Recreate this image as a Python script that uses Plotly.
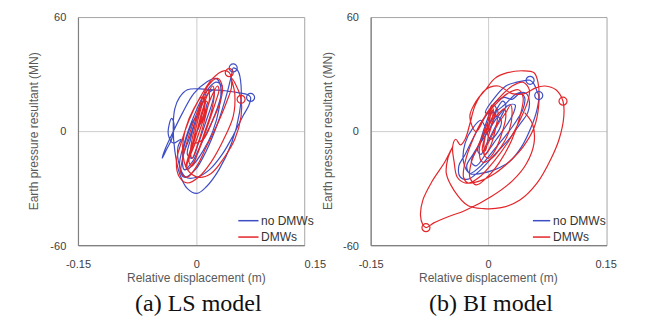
import plotly.graph_objects as go

W, H = 645, 322

# ---------------- data ----------------
# (a) LS model, no DMWs
ls_nodmw_x = [0.000, 0.008, 0.012, 0.008, 0.000, -0.008, -0.012, -0.006, 0.002,
              0.012, 0.020, 0.022, 0.014, 0.002, -0.010, -0.018, -0.016, -0.006, 0.006,
              0.020, 0.030, 0.032, 0.024, 0.010, -0.004, -0.016, -0.022, -0.016, -0.002, 0.012,
              0.026, 0.038, 0.044, 0.046, 0.052, 0.056, 0.054, 0.044, 0.028, 0.012, 0.000, -0.012, -0.022,
              -0.028, -0.030, -0.028, -0.022,
              -0.012, 0.004, 0.020, 0.036, 0.052, 0.064, 0.068, 0.066, 0.058, 0.046, 0.032, 0.016, 0.000,
              -0.014, -0.022, -0.024,
              -0.020, -0.030, -0.036, -0.035, -0.032, -0.029, -0.032, -0.038, -0.044, -0.040, -0.030,
              -0.018, -0.004, 0.012, 0.024, 0.030, 0.028, 0.020, 0.008, -0.006, -0.016, -0.018, -0.012,
              -0.004, 0.004]
ls_nodmw_y = [0, 8, 14, 16, 8, -4, -12, -14, -6,
              6, 16, 22, 20, 10, -4, -14, -20, -16, -6,
              6, 18, 24, 26, 20, 8, -6, -18, -24, -20, -10,
              4, 20, 30, 33.5, 32, 24, 10, -6, -20, -29, -32.5, -30, -22,
              -10, 2, 12, 18,
              22, 22.5, 22, 21.5, 20.5, 19.5, 18, 14, 8, -2, -12, -20, -24,
              -24, -18, -8,
              -4, -6, -2, 4, 7, 4, -4, -9, -14, -9, 0,
              10, 20, 26, 28, 24, 12, 0, -10, -18, -20, -12,
              -2, 6, 10]

# (a) LS model, DMWs
ls_dmw_x = [0.000, 0.006, 0.010, 0.008, 0.002, -0.004, -0.008, -0.006, 0.000,
            0.006, 0.012, 0.016, 0.014, 0.008, 0.000, -0.006, -0.010, -0.006, 0.002,
            0.010, 0.018, 0.022, 0.020, 0.012, 0.004, -0.004, -0.012, -0.012, -0.004,
            0.006, 0.016, 0.024, 0.028, 0.026, 0.018, 0.008, -0.002, -0.010, -0.014, -0.010,
            -0.002, 0.008, 0.014, 0.012, 0.006, 0.000, -0.004,
            0.008, 0.020, 0.030, 0.032, 0.026, 0.014, 0.002, -0.010, -0.018, -0.020, -0.012, 0.000, 0.012,
            0.026, 0.038, 0.044, 0.041, 0.034, 0.020, 0.004, -0.010, -0.020, -0.026, -0.022, -0.012, 0.002,
            0.018, 0.034, 0.046, 0.048,
            0.044, 0.050, 0.056, 0.056, 0.048, 0.034, 0.018, 0.002, -0.012, -0.018, -0.014, -0.004, 0.006,
            0.010, 0.006]
ls_dmw_y = [0, 8, 16, 18, 10, 0, -10, -14, -8,
            0, 10, 18, 22, 16, 4, -8, -16, -18, -10,
            0, 10, 20, 24, 18, 6, -6, -16, -20, -16,
            -6, 6, 16, 22, 24, 18, 6, -6, -14, -18, -12,
            -2, 8, 14, 16, 10, 0, -6,
            -4, 6, 16, 24, 28, 24, 12, -2, -14, -22, -24, -18, -8,
            4, 16, 24, 31, 32, 28, 18, 6, -6, -16, -24, -27, -24,
            -16, -4, 8, 20,
            28, 24, 17, 8, -4, -14, -22, -24, -20, -10, 2, 12, 18,
            14, 4]

# (b) BI model, no DMWs
bi_nodmw_x = [0.000, 0.006, 0.010, 0.006, -0.002, -0.010, -0.014, -0.010, -0.002,
              0.008, 0.016, 0.022, 0.018, 0.008, -0.004, -0.016, -0.022, -0.016, -0.004,
              0.010, 0.024, 0.032, 0.034, 0.026, 0.012, -0.004, -0.020, -0.028, -0.024, -0.010,
              0.006, 0.022, 0.036, 0.044, 0.046, 0.040, 0.030, 0.020, 0.010, -0.004, -0.018, -0.030,
              -0.038, -0.036, -0.026,
              -0.010, 0.008, 0.026, 0.040, 0.050, 0.052, 0.048, 0.036,
              0.020, 0.006, -0.004, 0.008, 0.022, 0.036, 0.048, 0.053, 0.058, 0.062, 0.064, 0.062, 0.054,
              0.042, 0.026, 0.008, -0.010, -0.024, -0.032, -0.030, -0.020, -0.010, -0.004,
              0.002, 0.012, 0.016, 0.010, 0.002]
bi_nodmw_y = [0, 6, 12, 14, 6, -4, -10, -12, -6,
              2, 8, 14, 16, 10, 0, -10, -16, -18, -12,
              -4, 4, 10, 14, 14, 8, -2, -12, -18, -22, -18,
              -10, -2, 6, 12, 18, 20, 17, 18, 16, 8, -2, -12,
              -18, -24, -25,
              -20, -12, -4, 4, 10, 16, 20, 20,
              14, 10, 10, 18, 24, 26, 27, 27, 25, 21, 19, 12, 2,
              -8, -16, -20, -22, -22, -16, -6, 2, 6, 2,
              -4, 0, 6, 8, 2]

# (b) BI model, DMWs
bi_dmw_x = [0.000, 0.002, 0.004, 0.002, -0.002, -0.006, -0.004, 0.000,
            0.006, 0.010, 0.012, 0.008, 0.002, -0.004, -0.008, -0.004,
            0.004, 0.014, 0.020, 0.022, 0.016, 0.008, 0.000, -0.006,
            0.002, 0.012, 0.022, 0.028, 0.030, 0.026, 0.016, 0.004, -0.008, -0.012, -0.006, 0.002,
            0.006, 0.004,
            -0.002, -0.014, -0.022, -0.024, -0.016, -0.002, 0.014, 0.030, 0.040, 0.044, 0.038, 0.024,
            0.008, -0.008, -0.020, -0.030, -0.032, -0.026, -0.012, 0.006, 0.024, 0.040, 0.050, 0.052,
            0.044, 0.030, 0.014, -0.002, -0.016,
            -0.024, -0.016, -0.004, 0.008, 0.024, 0.044, 0.058, 0.063, 0.064, 0.058, 0.044, 0.026,
            0.008, -0.012, -0.030, -0.040, -0.044, -0.046, -0.042, -0.036, -0.030, -0.024, -0.017,
            -0.004, 0.012, 0.030, 0.046, 0.060, 0.072, 0.086, 0.095, 0.096, 0.090, 0.080, 0.062,
            0.040, 0.016, -0.006, -0.026, -0.044, -0.054, -0.052, -0.046, -0.056, -0.072, -0.084,
            -0.087, -0.084, -0.080, -0.070, -0.050, -0.030, 0.004, 0.030, 0.048, 0.058, 0.056, 0.046]
bi_dmw_y = [0, 8, 14, 12, 2, -8, -10, -2,
            6, 12, 10, 0, -8, -12, -10, -2,
            6, 10, 12, 8, -2, -10, -14, -12,
            -4, 4, 10, 14, 10, 0, -8, -14, -16, -10, 0, 8,
            12, 6,
            2, -8, -16, -24, -28, -24, -16, -4, 8, 18, 22, 20,
            14, 6, -4, -16, -24, -27, -24, -16, -6, 6, 16, 22,
            26, 24, 18, 10, 0,
            8, 16, 22, 28, 31, 32, 31, 26, 14, 2, -8, -16,
            -22, -26, -27, -24, -16, -8, -4, -7, -4, 4, 14,
            22, 24, 20, 20, 23, 24, 22, 16, 8, -4, -14, -27,
            -36, -40, -40.5, -39, -31, -22, -14, -8, -16, -26, -36,
            -44, -49, -50.5, -48, -44.5, -41.5, -34, -26, -17, -6, 4, 10]

# highlighted (circled) points
ls_nodmw_pk_x, ls_nodmw_pk_y = [0.046, 0.068], [33.5, 18]
ls_dmw_pk_x, ls_dmw_pk_y = [0.041, 0.056], [31, 17]
bi_nodmw_pk_x, bi_nodmw_pk_y = [0.053, 0.064], [27, 19]
bi_dmw_pk_x, bi_dmw_pk_y = [0.095, -0.080], [16, -50.5]

series_names = ["no DMWs", "DMWs"]
x_ticks = [-0.15, 0, 0.15]
x_ticktext = ["-0.15", "0", "0.15"]
y_ticks = [-60, 0, 60]
y_ticktext = ["-60", "0", "60"]
captions = ["(a) LS model", "(b) BI model"]
x_title = "Relative displacement (m)"
y_title = "Earth pressure resultant (MN)"

BLUE = "rgb(62,78,196)"
RED = "rgb(228,38,42)"

fig = go.Figure()

def add_panel(xa, ya, bx, by, rx, ry, bpx, bpy, rpx, rpy):
    line_kw = dict(shape="spline", smoothing=1.0, width=1.2)
    fig.add_trace(go.Scatter(x=bx, y=by, mode="lines", line=dict(color=BLUE, **line_kw),
                             xaxis=xa, yaxis=ya, showlegend=False, name=series_names[0]))
    fig.add_trace(go.Scatter(x=rx, y=ry, mode="lines", line=dict(color=RED, **line_kw),
                             xaxis=xa, yaxis=ya, showlegend=False, name=series_names[1]))
    fig.add_trace(go.Scatter(x=bpx, y=bpy, mode="markers",
                             marker=dict(symbol="circle-open", size=8, color=BLUE, line=dict(width=1.2)),
                             xaxis=xa, yaxis=ya, showlegend=False))
    fig.add_trace(go.Scatter(x=rpx, y=rpy, mode="markers",
                             marker=dict(symbol="circle-open", size=8, color=RED, line=dict(width=1.2)),
                             xaxis=xa, yaxis=ya, showlegend=False))

add_panel("x", "y", ls_nodmw_x, ls_nodmw_y, ls_dmw_x, ls_dmw_y,
          ls_nodmw_pk_x, ls_nodmw_pk_y, ls_dmw_pk_x, ls_dmw_pk_y)
add_panel("x2", "y2", bi_nodmw_x, bi_nodmw_y, bi_dmw_x, bi_dmw_y,
          bi_nodmw_pk_x, bi_nodmw_pk_y, bi_dmw_pk_x, bi_dmw_pk_y)

def px(v):
    return v / W

def py(v):
    return 1 - v / H

tickfont = dict(family="Liberation Sans, Arial, sans-serif", size=11, color="#404040")
ydom = [py(249), py(12)]
axx = dict(range=[-0.15, 0.15], tickvals=x_ticks, ticktext=x_ticktext, showgrid=False, zeroline=False,
           showline=False, ticks="outside", ticklen=8, tickcolor="rgba(0,0,0,0)",
           tickfont=tickfont, fixedrange=True)
axy = dict(range=[-60, 60], tickvals=y_ticks, ticktext=y_ticktext, showgrid=False, zeroline=False,
           showline=False, ticks="outside", ticklen=9, tickcolor="rgba(0,0,0,0)",
           tickfont=tickfont, fixedrange=True)

fig.update_layout(
    width=W, height=H, margin=dict(l=0, r=0, t=0, b=0),
    paper_bgcolor="white", plot_bgcolor="rgba(0,0,0,0)",
    xaxis=dict(domain=[px(68), px(314)], anchor="y", **axx),
    yaxis=dict(domain=ydom, anchor="x", **axy),
    xaxis2=dict(domain=[px(372), px(616)], anchor="y2", **axx),
    yaxis2=dict(domain=ydom, anchor="x2", **axy),
)

shapes = []
annos = []
panels = [
    dict(xref="x", yref="y", left=68, right=303, cx=191, ytx=22, cap_x=193, leg_l=234, leg_r=255),
    dict(xref="x2", yref="y2", left=372, right=617, cx=494, ytx=327, cap_x=496, leg_l=540, leg_r=558),
]
for p in panels:
    # zero grid lines
    shapes.append(dict(type="line", xref=p["xref"], yref="paper", x0=0, x1=0, y0=py(249), y1=py(12),
                       line=dict(color="#cccccc", width=1), layer="below"))
    shapes.append(dict(type="line", xref="paper", yref=p["yref"], x0=px(p["left"]), x1=px(p["right"]),
                       y0=0, y1=0, line=dict(color="#cccccc", width=1), layer="below"))
    # plot frame
    shapes.append(dict(type="rect", xref="paper", yref="paper", x0=px(p["left"]), x1=px(p["right"]),
                       y0=py(249), y1=py(12), line=dict(color="#a6a6a6", width=1)))
    shapes.append(dict(type="line", xref="paper", yref="paper", x0=px(p["left"]), x1=px(p["left"]),
                       y0=py(249), y1=py(12), line=dict(color="#808080", width=1.2)))
    shapes.append(dict(type="line", xref="paper", yref="paper", x0=px(p["left"]), x1=px(p["right"]),
                       y0=py(249), y1=py(249), line=dict(color="#808080", width=1.2)))
    # legend
    for name, col, yy in [(series_names[0], BLUE, 223), (series_names[1], RED, 240)]:
        shapes.append(dict(type="line", xref="paper", yref="paper", x0=px(p["leg_l"]), x1=px(p["leg_r"]),
                           y0=py(yy), y1=py(yy), line=dict(color=col, width=1.5)))
        annos.append(dict(xref="paper", yref="paper", x=px(p["leg_r"] + 1), y=py(yy), text=name,
                          showarrow=False, xanchor="left", yanchor="middle",
                          font=dict(family="Liberation Sans, Arial, sans-serif", size=12, color="#333333")))
    # axis titles
    annos.append(dict(xref="paper", yref="paper", x=px(p["cx"]), y=py(283), text=x_title, showarrow=False,
                      xanchor="center", yanchor="middle", borderpad=0,
                      font=dict(family="Liberation Sans, Arial, sans-serif", size=12, color="#595959")))
    annos.append(dict(xref="paper", yref="paper", x=px(p["ytx"]), y=py(130), text=y_title, showarrow=False,
                      textangle=-90, xanchor="center", yanchor="middle",
                      font=dict(family="Liberation Sans, Arial, sans-serif", size=12, color="#595959")))

for cap, p in zip(captions, panels):
    annos.append(dict(xref="paper", yref="paper", x=px(p["cap_x"]), y=py(308), text=cap, showarrow=False,
                      xanchor="center", yanchor="middle", borderpad=0,
                      font=dict(family="Liberation Serif, Times New Roman, serif", size=24, color="#111111")))

fig.update_layout(shapes=shapes, annotations=annos)
fig.write_html("out.html")
